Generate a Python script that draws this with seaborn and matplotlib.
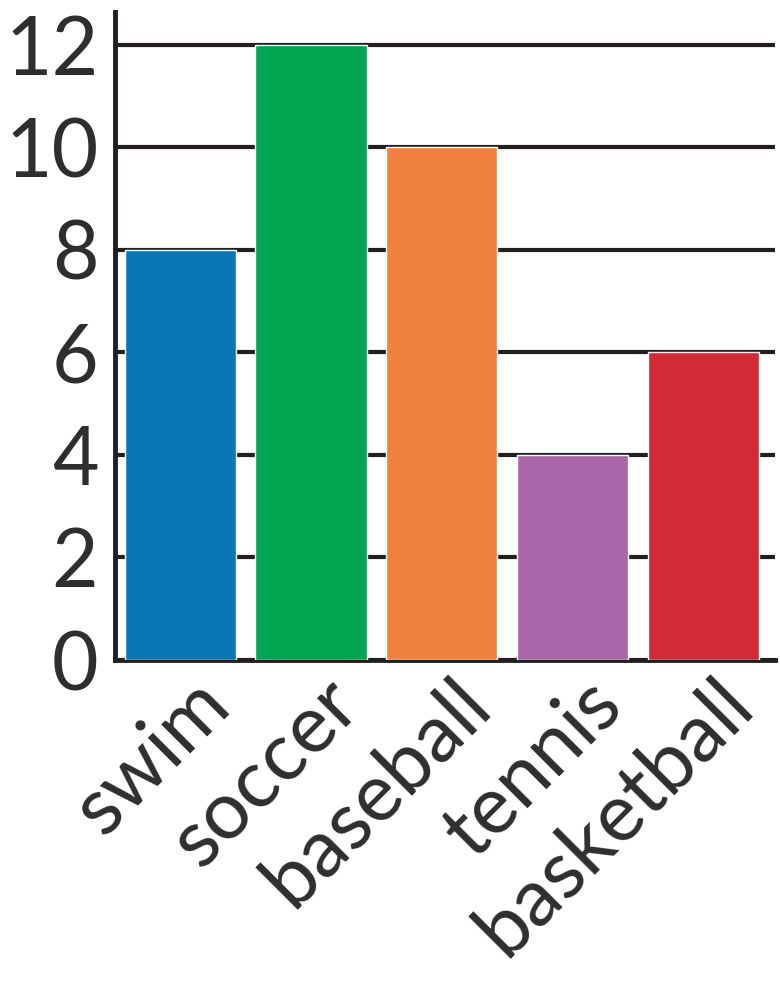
import matplotlib
matplotlib.use('Agg')
import matplotlib.pyplot as plt
import matplotlib.transforms as mtransforms
import seaborn as sns
import pandas as pd

# chart data
sports = ['swim', 'soccer', 'baseball', 'tennis', 'basketball']
counts = [8, 12, 10, 4, 6]
bar_colors = ['#0A77B5', '#00A651', '#F0813F', '#A966A8', '#D12B36']
y_ticks = [0, 2, 4, 6, 8, 10, 12]

df = pd.DataFrame({'Sport': sports, 'Count': counts})

sns.set_style('white')
plt.rcParams['font.family'] = ['Lato', 'DejaVu Sans']

ink = '#231F20'
fig = plt.figure(figsize=(7.8, 9.97), dpi=100)
ax = fig.add_axes([0.1474, 0.338, 0.8462, 0.65])

sns.barplot(data=df, x='Sport', y='Count', hue='Sport', palette=bar_colors,
            width=0.85, legend=False, saturation=1, ax=ax, zorder=3)

ax.set_ylim(0, 12.64)
ax.set_xlim(-0.5, 4.55)
ax.set_yticks(y_ticks)
ax.yaxis.grid(True, color=ink, linewidth=3.0, zorder=0)
ax.set_axisbelow(True)

for side in ['top', 'right']:
    ax.spines[side].set_visible(False)
for side in ['left', 'bottom']:
    ax.spines[side].set_color(ink)
    ax.spines[side].set_linewidth(3.5)

ax.set_xlabel('')
ax.set_ylabel('')
ax.tick_params(axis='both', length=0, colors='#2E2E2E')
ax.tick_params(axis='y', labelsize=58, pad=12)
ax.tick_params(axis='x', labelsize=58, pad=4)

# shift the rotated sport names a little to the right of the bar centres
offset = mtransforms.ScaledTranslation(0.1, 0, fig.dpi_scale_trans)
for lab in ax.get_xticklabels():
    lab.set_rotation(45)
    lab.set_ha('right')
    lab.set_va('top')
    lab.set_rotation_mode('anchor')
    lab.set_transform(lab.get_transform() + offset)

fig.savefig('out.png', dpi=100)
